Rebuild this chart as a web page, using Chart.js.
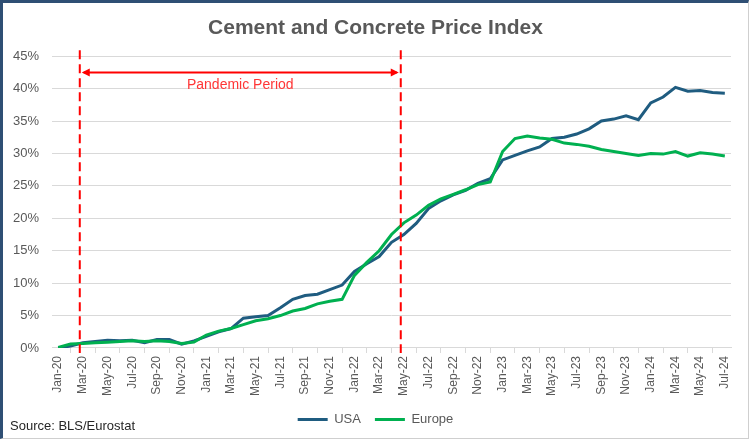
<!DOCTYPE html>
<html>
<head>
<meta charset="utf-8">
<script src="https://cdn.jsdelivr.net/npm/chart.js@4.4.1/dist/chart.umd.min.js"></script>
<style>
    body { margin: 0; background: #ffffff; }
    #wrap { position: relative; width: 751px; height: 439px; }
    #frame {
        position: absolute; left: 0; top: 0; width: 745px; height: 435px;
        border-top: 3px solid #2f4f74; border-left: 3px solid #2f4f74;
        border-right: 1px solid #cfcfcf; border-bottom: 1px solid #cfcfcf;
    }
    #source {
        position: absolute; left: 10px; top: 418px;
        font: 13px 'Liberation Sans', Arial, sans-serif; color: #262626;
    }
    canvas { position: absolute; left: 0; top: 0; }
</style>
</head>
<body>
<div id="wrap">
    <div id="frame"></div>
    <canvas id="priceChart" width="751" height="439"></canvas>
    <div id="source">Source: BLS/Eurostat</div>
</div>
<script>
// Months (category axis)
const months = [
    'Jan-20', 'Feb-20', 'Mar-20', 'Apr-20', 'May-20', 'Jun-20', 'Jul-20', 'Aug-20', 'Sep-20', 'Oct-20', 'Nov-20', 'Dec-20',
    'Jan-21', 'Feb-21', 'Mar-21', 'Apr-21', 'May-21', 'Jun-21', 'Jul-21', 'Aug-21', 'Sep-21', 'Oct-21', 'Nov-21', 'Dec-21',
    'Jan-22', 'Feb-22', 'Mar-22', 'Apr-22', 'May-22', 'Jun-22', 'Jul-22', 'Aug-22', 'Sep-22', 'Oct-22', 'Nov-22', 'Dec-22',
    'Jan-23', 'Feb-23', 'Mar-23', 'Apr-23', 'May-23', 'Jun-23', 'Jul-23', 'Aug-23', 'Sep-23', 'Oct-23', 'Nov-23', 'Dec-23',
    'Jan-24', 'Feb-24', 'Mar-24', 'Apr-24', 'May-24', 'Jun-24', 'Jul-24'
];

// Cumulative price change, %
const usaValues = [
    0.0, 0.3, 0.8, 1.0, 1.2, 1.1, 1.2, 0.8, 1.3, 1.3, 0.6, 1.1,
    1.8, 2.5, 3.0, 4.6, 4.8, 5.0, 6.2, 7.5, 8.1, 8.3, 9.0, 9.7,
    11.8, 13.0, 14.1, 16.3, 17.5, 19.2, 21.5, 22.7, 23.6, 24.3, 25.4, 26.1,
    29.0, 29.7, 30.4, 31.0, 32.3, 32.5, 33.0, 33.8, 35.0, 35.3, 35.8, 35.2,
    37.8, 38.7, 40.2, 39.6, 39.7, 39.4, 39.3
];

const europeValues = [
    0.1, 0.6, 0.7, 0.8, 0.9, 1.0, 1.1, 1.0, 1.1, 1.0, 0.7, 0.9,
    2.0, 2.6, 3.0, 3.6, 4.2, 4.5, 5.0, 5.7, 6.1, 6.8, 7.2, 7.5,
    11.2, 13.2, 15.0, 17.5, 19.3, 20.5, 22.0, 23.0, 23.7, 24.4, 25.2, 25.6,
    30.3, 32.3, 32.7, 32.4, 32.2, 31.6, 31.4, 31.1, 30.6, 30.3, 30.0, 29.7,
    30.0, 29.9, 30.3, 29.6, 30.1, 29.9, 29.6
];

const pandemicStart = 'Mar-20';
const pandemicEnd = 'May-22';
const pandemicLabel = 'Pandemic Period';

const gridColor = '#d9d9d9';
const textColor = '#595959';
const fontFamily = "'Liberation Sans', Arial, sans-serif";

// Dashed red markers + double arrow for the pandemic window
const pandemicPlugin = {
    id: 'pandemic',
    afterDatasetsDraw(chart) {
        const { ctx, chartArea, scales } = chart;
        const x1 = scales.x.getPixelForValue(months.indexOf(pandemicStart) - 0.25);
        const x2 = scales.x.getPixelForValue(months.indexOf(pandemicEnd) - 0.25);
        const arrowY = scales.y.getPixelForValue(42.5);
        const textY = scales.y.getPixelForValue(40.5);

        ctx.save();
        ctx.strokeStyle = '#ff0000';
        ctx.lineWidth = 2;
        ctx.setLineDash([9, 5]);
        [x1, x2].forEach(function(x) {
            ctx.beginPath();
            ctx.moveTo(x, chartArea.top - 6);
            ctx.lineTo(x, chartArea.bottom + 5);
            ctx.stroke();
        });

        // arrow shaft
        ctx.setLineDash([]);
        ctx.beginPath();
        ctx.moveTo(x1 + 4, arrowY);
        ctx.lineTo(x2 - 4, arrowY);
        ctx.stroke();

        // arrow heads
        ctx.fillStyle = '#ff0000';
        ctx.beginPath();
        ctx.moveTo(x1 + 2, arrowY);
        ctx.lineTo(x1 + 10, arrowY - 4);
        ctx.lineTo(x1 + 10, arrowY + 4);
        ctx.closePath();
        ctx.fill();
        ctx.beginPath();
        ctx.moveTo(x2 - 2, arrowY);
        ctx.lineTo(x2 - 10, arrowY - 4);
        ctx.lineTo(x2 - 10, arrowY + 4);
        ctx.closePath();
        ctx.fill();

        ctx.fillStyle = '#ff3636';
        ctx.font = '14px ' + fontFamily;
        ctx.textAlign = 'center';
        ctx.textBaseline = 'middle';
        ctx.fillText(pandemicLabel, (x1 + x2) / 2, textY);
        ctx.restore();
    }
};

const ctx = document.getElementById('priceChart').getContext('2d');

new Chart(ctx, {
    type: 'line',
    data: {
        labels: months,
        datasets: [
            {
                label: 'USA',
                data: usaValues,
                borderColor: '#1f5c80',
                backgroundColor: '#1f5c80',
                borderWidth: 3,
                pointRadius: 0,
                pointStyle: 'line',
                tension: 0,
                order: 1
            },
            {
                label: 'Europe',
                data: europeValues,
                borderColor: '#00b050',
                backgroundColor: '#00b050',
                borderWidth: 3,
                pointRadius: 0,
                pointStyle: 'line',
                tension: 0,
                order: 0
            }
        ]
    },
    options: {
        responsive: false,
        animation: false,
        layout: {
            padding: { left: 8, right: 8, top: 0, bottom: 3 }
        },
        plugins: {
            title: {
                display: true,
                text: 'Cement and Concrete Price Index',
                color: textColor,
                font: { family: fontFamily, size: 21, weight: 'bold' },
                padding: { top: 16, bottom: 15 }
            },
            legend: {
                position: 'bottom',
                labels: {
                    color: textColor,
                    font: { family: fontFamily, size: 13 },
                    usePointStyle: true,
                    pointStyleWidth: 30,
                    padding: 14,
                    sort: function(a, b) { return a.datasetIndex - b.datasetIndex; }
                }
            },
            tooltip: { enabled: false }
        },
        scales: {
            x: {
                offset: true,
                border: { color: gridColor },
                grid: {
                    offset: true,
                    drawOnChartArea: false,
                    tickLength: 5,
                    color: gridColor
                },
                ticks: {
                    autoSkip: false,
                    minRotation: 90,
                    maxRotation: 90,
                    padding: 3,
                    color: textColor,
                    font: { family: fontFamily, size: 12 },
                    callback: function(value, index) {
                        return index % 2 === 0 ? months[index] : null;
                    }
                }
            },
            y: {
                min: 0,
                max: 45,
                border: { display: false },
                grid: { color: gridColor, drawTicks: false },
                ticks: {
                    stepSize: 5,
                    padding: 13,
                    color: textColor,
                    font: { family: fontFamily, size: 13 },
                    callback: function(value) { return value + '%'; }
                },
                afterFit: function(scale) { scale.width = 44; }
            },
            // empty right-hand axis, only keeps a margin after the plot
            yRight: {
                position: 'right',
                border: { display: false },
                grid: { drawOnChartArea: false, drawTicks: false },
                ticks: { display: false },
                afterFit: function(scale) { scale.width = 12; }
            }
        }
    },
    plugins: [pandemicPlugin]
});
</script>
</body>
</html>
